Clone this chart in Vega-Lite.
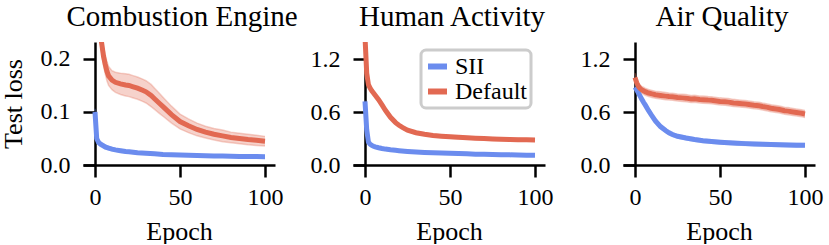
{
  "$schema": "https://vega.github.io/schema/vega-lite/v6.json",
  "padding": {"left": 0, "top": 3, "right": 0, "bottom": 0},
  "background": "white",
  "bounds": "flush",
  "spacing": 78,
  "config": {
    "view": {"stroke": null},
    "font": "Liberation Serif",
    "title": {"font": "Liberation Serif", "fontSize": 29, "fontWeight": "normal", "color": "black", "frame": "group", "anchor": "middle", "baseline": "alphabetic", "offset": 10, "dx": 3},
    "axis": {"domainColor": "black", "domainWidth": 2.5, "tickColor": "black", "tickWidth": 2.5, "tickSize": 12, "grid": false, "labelFont": "Liberation Serif", "labelFontSize": 24, "labelColor": "black", "labelFlush": false, "titleFont": "Liberation Serif", "titleFontSize": 26, "titleFontWeight": "normal", "titleColor": "black"},
    "legend": {"strokeColor": "#cccccc", "strokeWidth": 3, "cornerRadius": 5, "fillColor": "white", "padding": 4, "labelFont": "Liberation Serif", "labelFontSize": 24, "labelColor": "black", "labelOffset": 5, "rowPadding": -2, "symbolType": "stroke", "symbolStrokeWidth": 6, "symbolSize": 361, "symbolOpacity": 1}
  },
  "data": {"values": [
    {"p":"CE","m":"SII","e":0,"y":0.1,"lo":0.094,"hi":0.106},
    {"p":"CE","m":"SII","e":1,"y":0.05,"lo":0.044,"hi":0.056},
    {"p":"CE","m":"SII","e":2,"y":0.043,"lo":0.038,"hi":0.048},
    {"p":"CE","m":"SII","e":3,"y":0.04,"lo":0.035,"hi":0.045},
    {"p":"CE","m":"SII","e":4,"y":0.038,"lo":0.034,"hi":0.042},
    {"p":"CE","m":"SII","e":5,"y":0.036,"lo":0.032,"hi":0.04},
    {"p":"CE","m":"SII","e":6,"y":0.034,"lo":0.03,"hi":0.038},
    {"p":"CE","m":"SII","e":8,"y":0.032,"lo":0.029,"hi":0.035},
    {"p":"CE","m":"SII","e":10,"y":0.03,"lo":0.027,"hi":0.033},
    {"p":"CE","m":"SII","e":12,"y":0.0285,"lo":0.026,"hi":0.031},
    {"p":"CE","m":"SII","e":15,"y":0.027,"lo":0.0245,"hi":0.0295},
    {"p":"CE","m":"SII","e":18,"y":0.0255,"lo":0.023,"hi":0.028},
    {"p":"CE","m":"SII","e":20,"y":0.025,"lo":0.0228,"hi":0.0272},
    {"p":"CE","m":"SII","e":25,"y":0.023,"lo":0.021,"hi":0.025},
    {"p":"CE","m":"SII","e":30,"y":0.022,"lo":0.02,"hi":0.024},
    {"p":"CE","m":"SII","e":35,"y":0.021,"lo":0.019,"hi":0.023},
    {"p":"CE","m":"SII","e":40,"y":0.02,"lo":0.018,"hi":0.022},
    {"p":"CE","m":"SII","e":45,"y":0.0195,"lo":0.0176,"hi":0.0214},
    {"p":"CE","m":"SII","e":50,"y":0.019,"lo":0.0172,"hi":0.0208},
    {"p":"CE","m":"SII","e":55,"y":0.0185,"lo":0.0168,"hi":0.0202},
    {"p":"CE","m":"SII","e":60,"y":0.018,"lo":0.0164,"hi":0.0196},
    {"p":"CE","m":"SII","e":65,"y":0.0175,"lo":0.016,"hi":0.019},
    {"p":"CE","m":"SII","e":70,"y":0.017,"lo":0.0155,"hi":0.0185},
    {"p":"CE","m":"SII","e":75,"y":0.0168,"lo":0.0153,"hi":0.0183},
    {"p":"CE","m":"SII","e":80,"y":0.0165,"lo":0.015,"hi":0.018},
    {"p":"CE","m":"SII","e":85,"y":0.0162,"lo":0.0148,"hi":0.0176},
    {"p":"CE","m":"SII","e":90,"y":0.016,"lo":0.0146,"hi":0.0174},
    {"p":"CE","m":"SII","e":95,"y":0.0158,"lo":0.0144,"hi":0.0172},
    {"p":"CE","m":"SII","e":100,"y":0.0156,"lo":0.0142,"hi":0.017},
    {"p":"CE","m":"Default","e":0,"y":0.45,"lo":0.43,"hi":0.47},
    {"p":"CE","m":"Default","e":1,"y":0.34,"lo":0.32,"hi":0.36},
    {"p":"CE","m":"Default","e":2,"y":0.28,"lo":0.26,"hi":0.3},
    {"p":"CE","m":"Default","e":3,"y":0.25,"lo":0.232,"hi":0.268},
    {"p":"CE","m":"Default","e":4,"y":0.228,"lo":0.21,"hi":0.246},
    {"p":"CE","m":"Default","e":5,"y":0.205,"lo":0.188,"hi":0.222},
    {"p":"CE","m":"Default","e":6,"y":0.19,"lo":0.172,"hi":0.208},
    {"p":"CE","m":"Default","e":7,"y":0.177,"lo":0.159,"hi":0.195},
    {"p":"CE","m":"Default","e":8,"y":0.168,"lo":0.15,"hi":0.186},
    {"p":"CE","m":"Default","e":10,"y":0.16,"lo":0.142,"hi":0.178},
    {"p":"CE","m":"Default","e":12,"y":0.156,"lo":0.137,"hi":0.175},
    {"p":"CE","m":"Default","e":15,"y":0.153,"lo":0.133,"hi":0.173},
    {"p":"CE","m":"Default","e":18,"y":0.151,"lo":0.13,"hi":0.172},
    {"p":"CE","m":"Default","e":20,"y":0.15,"lo":0.129,"hi":0.171},
    {"p":"CE","m":"Default","e":22,"y":0.148,"lo":0.127,"hi":0.169},
    {"p":"CE","m":"Default","e":25,"y":0.145,"lo":0.124,"hi":0.166},
    {"p":"CE","m":"Default","e":28,"y":0.141,"lo":0.12,"hi":0.162},
    {"p":"CE","m":"Default","e":30,"y":0.138,"lo":0.117,"hi":0.159},
    {"p":"CE","m":"Default","e":33,"y":0.131,"lo":0.11,"hi":0.152},
    {"p":"CE","m":"Default","e":35,"y":0.125,"lo":0.105,"hi":0.145},
    {"p":"CE","m":"Default","e":38,"y":0.116,"lo":0.097,"hi":0.135},
    {"p":"CE","m":"Default","e":40,"y":0.11,"lo":0.092,"hi":0.128},
    {"p":"CE","m":"Default","e":45,"y":0.095,"lo":0.079,"hi":0.111},
    {"p":"CE","m":"Default","e":50,"y":0.082,"lo":0.068,"hi":0.096},
    {"p":"CE","m":"Default","e":55,"y":0.074,"lo":0.061,"hi":0.087},
    {"p":"CE","m":"Default","e":60,"y":0.067,"lo":0.055,"hi":0.079},
    {"p":"CE","m":"Default","e":65,"y":0.062,"lo":0.051,"hi":0.073},
    {"p":"CE","m":"Default","e":70,"y":0.058,"lo":0.047,"hi":0.069},
    {"p":"CE","m":"Default","e":75,"y":0.055,"lo":0.044,"hi":0.066},
    {"p":"CE","m":"Default","e":80,"y":0.052,"lo":0.042,"hi":0.062},
    {"p":"CE","m":"Default","e":85,"y":0.05,"lo":0.04,"hi":0.06},
    {"p":"CE","m":"Default","e":90,"y":0.048,"lo":0.038,"hi":0.058},
    {"p":"CE","m":"Default","e":95,"y":0.0465,"lo":0.037,"hi":0.056},
    {"p":"CE","m":"Default","e":100,"y":0.045,"lo":0.036,"hi":0.054},
    {"p":"HA","m":"SII","e":0,"y":0.72,"lo":0.708,"hi":0.732},
    {"p":"HA","m":"SII","e":1,"y":0.4,"lo":0.388,"hi":0.412},
    {"p":"HA","m":"SII","e":2,"y":0.26,"lo":0.248,"hi":0.272},
    {"p":"HA","m":"SII","e":3,"y":0.235,"lo":0.223,"hi":0.247},
    {"p":"HA","m":"SII","e":4,"y":0.222,"lo":0.21,"hi":0.234},
    {"p":"HA","m":"SII","e":5,"y":0.212,"lo":0.2,"hi":0.224},
    {"p":"HA","m":"SII","e":6,"y":0.205,"lo":0.193,"hi":0.217},
    {"p":"HA","m":"SII","e":8,"y":0.195,"lo":0.183,"hi":0.207},
    {"p":"HA","m":"SII","e":10,"y":0.187,"lo":0.175,"hi":0.199},
    {"p":"HA","m":"SII","e":12,"y":0.18,"lo":0.168,"hi":0.192},
    {"p":"HA","m":"SII","e":15,"y":0.172,"lo":0.16,"hi":0.184},
    {"p":"HA","m":"SII","e":18,"y":0.166,"lo":0.154,"hi":0.178},
    {"p":"HA","m":"SII","e":20,"y":0.162,"lo":0.15,"hi":0.174},
    {"p":"HA","m":"SII","e":25,"y":0.154,"lo":0.142,"hi":0.166},
    {"p":"HA","m":"SII","e":30,"y":0.147,"lo":0.135,"hi":0.159},
    {"p":"HA","m":"SII","e":35,"y":0.142,"lo":0.13,"hi":0.154},
    {"p":"HA","m":"SII","e":40,"y":0.138,"lo":0.126,"hi":0.15},
    {"p":"HA","m":"SII","e":45,"y":0.135,"lo":0.123,"hi":0.147},
    {"p":"HA","m":"SII","e":50,"y":0.132,"lo":0.12,"hi":0.144},
    {"p":"HA","m":"SII","e":55,"y":0.129,"lo":0.117,"hi":0.141},
    {"p":"HA","m":"SII","e":60,"y":0.126,"lo":0.114,"hi":0.138},
    {"p":"HA","m":"SII","e":65,"y":0.123,"lo":0.111,"hi":0.135},
    {"p":"HA","m":"SII","e":70,"y":0.121,"lo":0.109,"hi":0.133},
    {"p":"HA","m":"SII","e":75,"y":0.119,"lo":0.107,"hi":0.131},
    {"p":"HA","m":"SII","e":80,"y":0.117,"lo":0.105,"hi":0.129},
    {"p":"HA","m":"SII","e":85,"y":0.115,"lo":0.103,"hi":0.127},
    {"p":"HA","m":"SII","e":90,"y":0.113,"lo":0.101,"hi":0.125},
    {"p":"HA","m":"SII","e":95,"y":0.111,"lo":0.099,"hi":0.123},
    {"p":"HA","m":"SII","e":100,"y":0.11,"lo":0.098,"hi":0.122},
    {"p":"HA","m":"Default","e":0,"y":1.45,"lo":1.435,"hi":1.465},
    {"p":"HA","m":"Default","e":1,"y":1.04,"lo":1.025,"hi":1.055},
    {"p":"HA","m":"Default","e":2,"y":0.91,"lo":0.895,"hi":0.925},
    {"p":"HA","m":"Default","e":3,"y":0.87,"lo":0.855,"hi":0.885},
    {"p":"HA","m":"Default","e":4,"y":0.84,"lo":0.825,"hi":0.855},
    {"p":"HA","m":"Default","e":5,"y":0.815,"lo":0.8,"hi":0.83},
    {"p":"HA","m":"Default","e":6,"y":0.79,"lo":0.775,"hi":0.805},
    {"p":"HA","m":"Default","e":8,"y":0.74,"lo":0.725,"hi":0.755},
    {"p":"HA","m":"Default","e":10,"y":0.68,"lo":0.665,"hi":0.695},
    {"p":"HA","m":"Default","e":12,"y":0.62,"lo":0.605,"hi":0.635},
    {"p":"HA","m":"Default","e":15,"y":0.54,"lo":0.525,"hi":0.555},
    {"p":"HA","m":"Default","e":18,"y":0.48,"lo":0.465,"hi":0.495},
    {"p":"HA","m":"Default","e":20,"y":0.45,"lo":0.435,"hi":0.465},
    {"p":"HA","m":"Default","e":22,"y":0.425,"lo":0.41,"hi":0.44},
    {"p":"HA","m":"Default","e":25,"y":0.395,"lo":0.38,"hi":0.41},
    {"p":"HA","m":"Default","e":30,"y":0.365,"lo":0.35,"hi":0.38},
    {"p":"HA","m":"Default","e":35,"y":0.348,"lo":0.333,"hi":0.363},
    {"p":"HA","m":"Default","e":40,"y":0.335,"lo":0.32,"hi":0.35},
    {"p":"HA","m":"Default","e":45,"y":0.326,"lo":0.311,"hi":0.341},
    {"p":"HA","m":"Default","e":50,"y":0.319,"lo":0.304,"hi":0.334},
    {"p":"HA","m":"Default","e":55,"y":0.313,"lo":0.298,"hi":0.328},
    {"p":"HA","m":"Default","e":60,"y":0.308,"lo":0.293,"hi":0.323},
    {"p":"HA","m":"Default","e":65,"y":0.303,"lo":0.288,"hi":0.318},
    {"p":"HA","m":"Default","e":70,"y":0.299,"lo":0.284,"hi":0.314},
    {"p":"HA","m":"Default","e":75,"y":0.295,"lo":0.28,"hi":0.31},
    {"p":"HA","m":"Default","e":80,"y":0.292,"lo":0.277,"hi":0.307},
    {"p":"HA","m":"Default","e":85,"y":0.289,"lo":0.274,"hi":0.304},
    {"p":"HA","m":"Default","e":90,"y":0.287,"lo":0.272,"hi":0.302},
    {"p":"HA","m":"Default","e":95,"y":0.285,"lo":0.27,"hi":0.3},
    {"p":"HA","m":"Default","e":100,"y":0.283,"lo":0.268,"hi":0.298},
    {"p":"AQ","m":"SII","e":0,"y":0.88,"lo":0.86,"hi":0.9},
    {"p":"AQ","m":"SII","e":1,"y":0.85,"lo":0.83,"hi":0.87},
    {"p":"AQ","m":"SII","e":2,"y":0.815,"lo":0.795,"hi":0.835},
    {"p":"AQ","m":"SII","e":3,"y":0.78,"lo":0.76,"hi":0.8},
    {"p":"AQ","m":"SII","e":4,"y":0.745,"lo":0.725,"hi":0.765},
    {"p":"AQ","m":"SII","e":5,"y":0.71,"lo":0.69,"hi":0.73},
    {"p":"AQ","m":"SII","e":6,"y":0.68,"lo":0.66,"hi":0.7},
    {"p":"AQ","m":"SII","e":8,"y":0.615,"lo":0.595,"hi":0.635},
    {"p":"AQ","m":"SII","e":10,"y":0.555,"lo":0.535,"hi":0.575},
    {"p":"AQ","m":"SII","e":12,"y":0.5,"lo":0.48,"hi":0.52},
    {"p":"AQ","m":"SII","e":15,"y":0.435,"lo":0.415,"hi":0.455},
    {"p":"AQ","m":"SII","e":18,"y":0.39,"lo":0.37,"hi":0.41},
    {"p":"AQ","m":"SII","e":20,"y":0.365,"lo":0.345,"hi":0.385},
    {"p":"AQ","m":"SII","e":22,"y":0.345,"lo":0.325,"hi":0.365},
    {"p":"AQ","m":"SII","e":25,"y":0.325,"lo":0.305,"hi":0.345},
    {"p":"AQ","m":"SII","e":30,"y":0.305,"lo":0.285,"hi":0.325},
    {"p":"AQ","m":"SII","e":35,"y":0.288,"lo":0.268,"hi":0.308},
    {"p":"AQ","m":"SII","e":40,"y":0.275,"lo":0.255,"hi":0.295},
    {"p":"AQ","m":"SII","e":45,"y":0.265,"lo":0.245,"hi":0.285},
    {"p":"AQ","m":"SII","e":50,"y":0.257,"lo":0.237,"hi":0.277},
    {"p":"AQ","m":"SII","e":55,"y":0.251,"lo":0.231,"hi":0.271},
    {"p":"AQ","m":"SII","e":60,"y":0.246,"lo":0.226,"hi":0.266},
    {"p":"AQ","m":"SII","e":65,"y":0.242,"lo":0.222,"hi":0.262},
    {"p":"AQ","m":"SII","e":70,"y":0.238,"lo":0.218,"hi":0.258},
    {"p":"AQ","m":"SII","e":75,"y":0.235,"lo":0.215,"hi":0.255},
    {"p":"AQ","m":"SII","e":80,"y":0.232,"lo":0.212,"hi":0.252},
    {"p":"AQ","m":"SII","e":85,"y":0.229,"lo":0.209,"hi":0.249},
    {"p":"AQ","m":"SII","e":90,"y":0.227,"lo":0.207,"hi":0.247},
    {"p":"AQ","m":"SII","e":95,"y":0.225,"lo":0.205,"hi":0.245},
    {"p":"AQ","m":"SII","e":100,"y":0.223,"lo":0.203,"hi":0.243},
    {"p":"AQ","m":"Default","e":0,"y":0.99,"lo":0.94,"hi":1.04},
    {"p":"AQ","m":"Default","e":1,"y":0.93,"lo":0.89,"hi":0.97},
    {"p":"AQ","m":"Default","e":2,"y":0.89,"lo":0.85,"hi":0.93},
    {"p":"AQ","m":"Default","e":3,"y":0.865,"lo":0.825,"hi":0.905},
    {"p":"AQ","m":"Default","e":4,"y":0.85,"lo":0.81,"hi":0.89},
    {"p":"AQ","m":"Default","e":5,"y":0.84,"lo":0.8,"hi":0.88},
    {"p":"AQ","m":"Default","e":6,"y":0.83,"lo":0.79,"hi":0.87},
    {"p":"AQ","m":"Default","e":8,"y":0.815,"lo":0.775,"hi":0.855},
    {"p":"AQ","m":"Default","e":10,"y":0.805,"lo":0.765,"hi":0.845},
    {"p":"AQ","m":"Default","e":12,"y":0.795,"lo":0.755,"hi":0.835},
    {"p":"AQ","m":"Default","e":15,"y":0.788,"lo":0.748,"hi":0.828},
    {"p":"AQ","m":"Default","e":18,"y":0.78,"lo":0.74,"hi":0.82},
    {"p":"AQ","m":"Default","e":20,"y":0.775,"lo":0.735,"hi":0.815},
    {"p":"AQ","m":"Default","e":22,"y":0.772,"lo":0.732,"hi":0.812},
    {"p":"AQ","m":"Default","e":25,"y":0.765,"lo":0.725,"hi":0.805},
    {"p":"AQ","m":"Default","e":28,"y":0.76,"lo":0.72,"hi":0.8},
    {"p":"AQ","m":"Default","e":30,"y":0.757,"lo":0.717,"hi":0.797},
    {"p":"AQ","m":"Default","e":33,"y":0.748,"lo":0.708,"hi":0.788},
    {"p":"AQ","m":"Default","e":35,"y":0.75,"lo":0.71,"hi":0.79},
    {"p":"AQ","m":"Default","e":38,"y":0.742,"lo":0.702,"hi":0.782},
    {"p":"AQ","m":"Default","e":40,"y":0.74,"lo":0.7,"hi":0.78},
    {"p":"AQ","m":"Default","e":43,"y":0.735,"lo":0.695,"hi":0.775},
    {"p":"AQ","m":"Default","e":45,"y":0.733,"lo":0.693,"hi":0.773},
    {"p":"AQ","m":"Default","e":48,"y":0.725,"lo":0.685,"hi":0.765},
    {"p":"AQ","m":"Default","e":50,"y":0.72,"lo":0.68,"hi":0.76},
    {"p":"AQ","m":"Default","e":53,"y":0.716,"lo":0.676,"hi":0.756},
    {"p":"AQ","m":"Default","e":55,"y":0.712,"lo":0.672,"hi":0.752},
    {"p":"AQ","m":"Default","e":58,"y":0.703,"lo":0.663,"hi":0.743},
    {"p":"AQ","m":"Default","e":60,"y":0.7,"lo":0.66,"hi":0.74},
    {"p":"AQ","m":"Default","e":63,"y":0.694,"lo":0.654,"hi":0.734},
    {"p":"AQ","m":"Default","e":65,"y":0.69,"lo":0.65,"hi":0.73},
    {"p":"AQ","m":"Default","e":68,"y":0.683,"lo":0.643,"hi":0.723},
    {"p":"AQ","m":"Default","e":70,"y":0.677,"lo":0.637,"hi":0.717},
    {"p":"AQ","m":"Default","e":73,"y":0.67,"lo":0.63,"hi":0.71},
    {"p":"AQ","m":"Default","e":75,"y":0.662,"lo":0.622,"hi":0.702},
    {"p":"AQ","m":"Default","e":78,"y":0.652,"lo":0.612,"hi":0.692},
    {"p":"AQ","m":"Default","e":80,"y":0.642,"lo":0.602,"hi":0.682},
    {"p":"AQ","m":"Default","e":83,"y":0.634,"lo":0.594,"hi":0.674},
    {"p":"AQ","m":"Default","e":85,"y":0.628,"lo":0.588,"hi":0.668},
    {"p":"AQ","m":"Default","e":88,"y":0.615,"lo":0.575,"hi":0.655},
    {"p":"AQ","m":"Default","e":90,"y":0.61,"lo":0.57,"hi":0.65},
    {"p":"AQ","m":"Default","e":93,"y":0.6,"lo":0.56,"hi":0.64},
    {"p":"AQ","m":"Default","e":95,"y":0.594,"lo":0.554,"hi":0.634},
    {"p":"AQ","m":"Default","e":98,"y":0.585,"lo":0.545,"hi":0.625},
    {"p":"AQ","m":"Default","e":100,"y":0.578,"lo":0.538,"hi":0.618}
  ]},
  "resolve": {"scale": {"x": "independent", "y": "independent", "color": "independent"}, "legend": {"color": "independent"}},
  "hconcat": [
    {
      "width": 192, "height": 123,
      "title": {"text": "Combustion Engine"},
      "transform": [{"filter": "datum.p === 'CE'"}],
      "encoding": {
        "x": {"field": "e", "type": "quantitative", "scale": {"domain": [-7.06, 105.88], "nice": false, "zero": false}, "axis": {"values": [0, 50, 100], "title": "Epoch", "labelPadding": 8, "titlePadding": 9}},
        "color": {"field": "m", "type": "nominal", "scale": {"domain": ["SII", "Default"], "range": ["#6b8cee", "#e26952"]}, "legend": null}
      },
      "layer": [
        {"mark": {"type": "area", "clip": true, "fillOpacity": 0.3},
         "encoding": {
           "y": {"field": "lo", "type": "quantitative", "scale": {"domain": [0, 0.232], "nice": false}, "axis": {"values": [0, 0.1, 0.2], "format": ".1f", "offset": -12, "labelPadding": 13, "title": "Test loss", "titlePadding": 14}},
           "y2": {"field": "hi"}
         }},
        {"mark": {"type": "line", "clip": true, "strokeWidth": 1.5, "strokeOpacity": 0.3},
         "encoding": {"y": {"field": "lo", "type": "quantitative", "title": "Test loss"}}},
        {"mark": {"type": "line", "clip": true, "strokeWidth": 1.5, "strokeOpacity": 0.3},
         "encoding": {"y": {"field": "hi", "type": "quantitative", "title": "Test loss"}}},
        {"mark": {"type": "line", "clip": true, "strokeWidth": 5},
         "encoding": {"y": {"field": "y", "type": "quantitative", "title": "Test loss"}}}
      ]
    },
    {
      "width": 192, "height": 123,
      "title": {"text": "Human Activity"},
      "transform": [{"filter": "datum.p === 'HA'"}],
      "encoding": {
        "x": {"field": "e", "type": "quantitative", "scale": {"domain": [-7.06, 105.88], "nice": false, "zero": false}, "axis": {"values": [0, 50, 100], "title": "Epoch", "labelPadding": 8, "titlePadding": 9}},
        "color": {"field": "m", "type": "nominal", "scale": {"domain": ["SII", "Default"], "range": ["#6b8cee", "#e26952"]}, "legend": {"orient": "none", "legendX": 68, "legendY": 8, "title": null}}
      },
      "layer": [
        {"mark": {"type": "area", "clip": true, "fillOpacity": 0.3},
         "encoding": {
           "y": {"field": "lo", "type": "quantitative", "scale": {"domain": [0, 1.3925], "nice": false}, "axis": {"values": [0, 0.6, 1.2], "format": ".1f", "offset": -12, "labelPadding": 13, "title": null}},
           "y2": {"field": "hi"}
         }},
        {"mark": {"type": "line", "clip": true, "strokeWidth": 1.5, "strokeOpacity": 0.3},
         "encoding": {"y": {"field": "lo", "type": "quantitative", "title": null}}},
        {"mark": {"type": "line", "clip": true, "strokeWidth": 1.5, "strokeOpacity": 0.3},
         "encoding": {"y": {"field": "hi", "type": "quantitative", "title": null}}},
        {"mark": {"type": "line", "clip": true, "strokeWidth": 5},
         "encoding": {"y": {"field": "y", "type": "quantitative", "title": null}}}
      ]
    },
    {
      "width": 192, "height": 123,
      "title": {"text": "Air Quality"},
      "transform": [{"filter": "datum.p === 'AQ'"}],
      "encoding": {
        "x": {"field": "e", "type": "quantitative", "scale": {"domain": [-7.06, 105.88], "nice": false, "zero": false}, "axis": {"values": [0, 50, 100], "title": "Epoch", "labelPadding": 8, "titlePadding": 9}},
        "color": {"field": "m", "type": "nominal", "scale": {"domain": ["SII", "Default"], "range": ["#6b8cee", "#e26952"]}, "legend": null}
      },
      "layer": [
        {"mark": {"type": "area", "clip": true, "fillOpacity": 0.3},
         "encoding": {
           "y": {"field": "lo", "type": "quantitative", "scale": {"domain": [0, 1.3925], "nice": false}, "axis": {"values": [0, 0.6, 1.2], "format": ".1f", "offset": -12, "labelPadding": 13, "title": null}},
           "y2": {"field": "hi"}
         }},
        {"mark": {"type": "line", "clip": true, "strokeWidth": 1.5, "strokeOpacity": 0.3},
         "encoding": {"y": {"field": "lo", "type": "quantitative", "title": null}}},
        {"mark": {"type": "line", "clip": true, "strokeWidth": 1.5, "strokeOpacity": 0.3},
         "encoding": {"y": {"field": "hi", "type": "quantitative", "title": null}}},
        {"mark": {"type": "line", "clip": true, "strokeWidth": 5},
         "encoding": {"y": {"field": "y", "type": "quantitative", "title": null}}}
      ]
    }
  ]
}
